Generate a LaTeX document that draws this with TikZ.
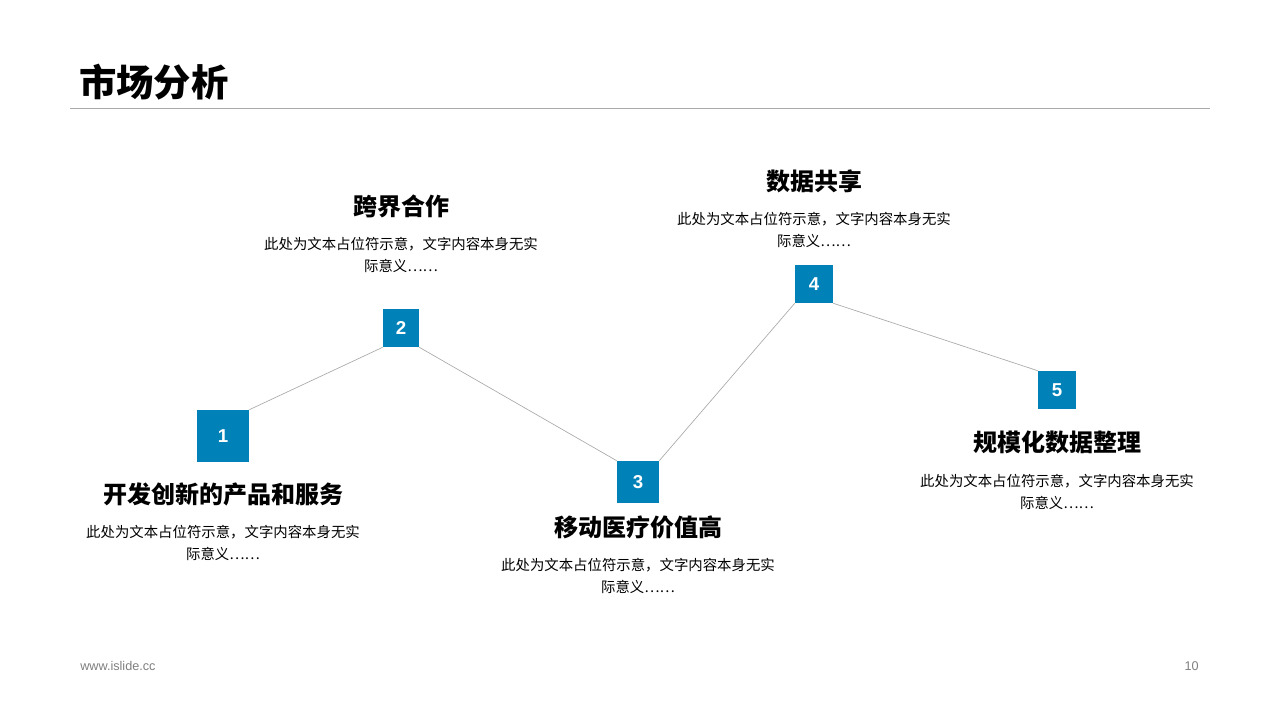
\documentclass[tikz,border=0pt]{standalone}
\usepackage{fontspec}
\setmainfont{Noto Sans CJK SC}
\newfontfamily\latin{Liberation Sans}
\definecolor{bluebox}{RGB}{0,130,185}
\definecolor{linegray}{RGB}{170,170,170}
\tikzset{
 numbox/.style={fill=bluebox,text=white,font=\latin\bfseries\fontsize{14}{16}\selectfont,inner sep=0pt,anchor=center},
 headtxt/.style={font=\bfseries\fontsize{18}{20}\selectfont,anchor=center,inner sep=0pt},
 bodytxt/.style={font=\fontsize{10.8}{16}\selectfont,anchor=center,inner sep=0pt,align=center},
 conn/.style={draw=linegray,line width=0.5pt}
}
\begin{document}
\begin{tikzpicture}[x=0.75pt,y=-0.75pt]
\useasboundingbox[fill=white] (0,0) rectangle (1280,720);
\node[anchor=west,font=\bfseries\fontsize{28}{30}\selectfont,inner sep=0pt] (title) at (79,82) {市场分析};
\draw[linegray,line width=0.6pt] (70,108) coordinate (r1) -- (1210,108) coordinate (r2);
\node[numbox,minimum width=39pt,minimum height=39pt] (b1) at (223,436) {1};
\node[numbox,minimum width=27pt,minimum height=28.5pt] (b2) at (401,328) {2};
\node[numbox,minimum width=31.5pt,minimum height=31.5pt] (b3) at (638,482) {3};
\node[numbox,minimum width=28.5pt,minimum height=28.5pt] (b4) at (814,284) {4};
\node[numbox,minimum width=28.5pt,minimum height=28.5pt] (b5) at (1057,390) {5};
\draw[conn] (b1.north east) -- (b2.south west);
\draw[conn] (b2.south east) -- (b3.north west);
\draw[conn] (b3.north east) -- (b4.south west);
\draw[conn] (b4.south east) -- (b5.north west);
\node[headtxt] (h1) at (223,494) {开发创新的产品和服务};
\node[bodytxt] (t1) at (223,543) {此处为文本占位符示意，文字内容本身无实\\际意义……};
\node[headtxt] (h2) at (401,206) {跨界合作};
\node[bodytxt] (t2) at (401,255) {此处为文本占位符示意，文字内容本身无实\\际意义……};
\node[headtxt] (h3) at (638,527) {移动医疗价值高};
\node[bodytxt] (t3) at (638,576) {此处为文本占位符示意，文字内容本身无实\\际意义……};
\node[headtxt] (h4) at (814,181) {数据共享};
\node[bodytxt] (t4) at (814,230) {此处为文本占位符示意，文字内容本身无实\\际意义……};
\node[headtxt] (h5) at (1057,442) {规模化数据整理};
\node[bodytxt] (t5) at (1057,492) {此处为文本占位符示意，文字内容本身无实\\际意义……};
\node[anchor=west,font=\latin\fontsize{9.5}{11}\selectfont,text=gray,inner sep=0pt] (f1) at (80,666) {www.islide.cc};
\node[anchor=east,font=\latin\fontsize{9.5}{11}\selectfont,text=gray,inner sep=0pt] (f2) at (1199,666) {10};
\end{tikzpicture}
\end{document}
